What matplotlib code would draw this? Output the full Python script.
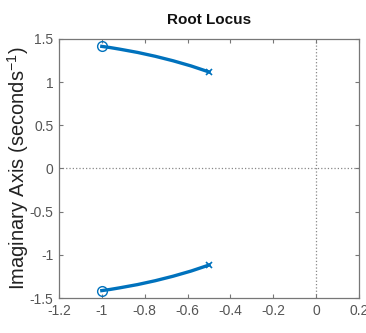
import matplotlib
matplotlib.use("Agg")
import matplotlib.pyplot as plt

plt.rcParams["font.family"] = ["Liberation Sans", "DejaVu Sans"]
plt.rcParams["mathtext.default"] = "regular"

# 根轨迹两条分支（上半、下半），从极点走到零点
upper_re = [-0.5, -0.583, -0.667, -0.75, -0.833, -0.917, -0.96, -1.0]
upper_im = [1.118, 1.187, 1.247, 1.299, 1.344, 1.382, 1.400, 1.414]
lower_re = [-0.5, -0.583, -0.667, -0.75, -0.833, -0.917, -0.96, -1.0]
lower_im = [-1.118, -1.187, -1.247, -1.299, -1.344, -1.382, -1.400, -1.414]

pole_re = [-0.5, -0.5]
pole_im = [1.118, -1.118]
zero_re = [-1.0, -1.0]
zero_im = [1.414, -1.414]

xticks = [-1.2, -1, -0.8, -0.6, -0.4, -0.2, 0, 0.2]
yticks = [-1.5, -1, -0.5, 0, 0.5, 1, 1.5]

blue = "#0072BD"
gray = "#555555"

fig = plt.figure(figsize=(3.66, 3.33), dpi=100)
ax = fig.add_axes([0.161, 0.105, 0.820, 0.778])

# 虚线坐标轴
ax.axhline(0, color="#888888", linestyle=":", linewidth=0.9, zorder=1)
ax.axvline(0, color="#888888", linestyle=":", linewidth=0.9, zorder=1)

ax.plot(upper_re, upper_im, color=blue, linewidth=2.4, zorder=2)
ax.plot(lower_re, lower_im, color=blue, linewidth=2.4, zorder=2)
ax.plot(pole_re, pole_im, "x", color=blue, markersize=5, markeredgewidth=1.2, zorder=3)
ax.plot(zero_re, zero_im, "o", markerfacecolor="none", markeredgecolor=blue,
        markersize=7, markeredgewidth=1.0, zorder=3)

ax.set_xlim(-1.2, 0.2)
ax.set_ylim(-1.5, 1.5)
ax.set_xticks(xticks)
ax.set_yticks(yticks)
ax.set_xticklabels(["{:g}".format(v) for v in xticks])
ax.set_yticklabels(["{:g}".format(v) for v in yticks])
ax.tick_params(direction="in", length=3, width=0.8, colors="#777777",
               labelcolor=gray, labelsize=10, top=True, right=True, pad=4)
for s in ax.spines.values():
    s.set_color("#777777")
    s.set_linewidth(0.9)

ax.set_title("Root Locus", fontsize=11, fontweight="bold", color="#111111", pad=11)
ax.set_ylabel("Imaginary Axis (seconds$^{-1}$)", fontsize=14.5, color="#222222", labelpad=-1)
ax.set_xlabel("Real Axis (seconds$^{-1}$)", fontsize=12, color="#222222", labelpad=13)

plt.savefig("out.png", dpi=100)
